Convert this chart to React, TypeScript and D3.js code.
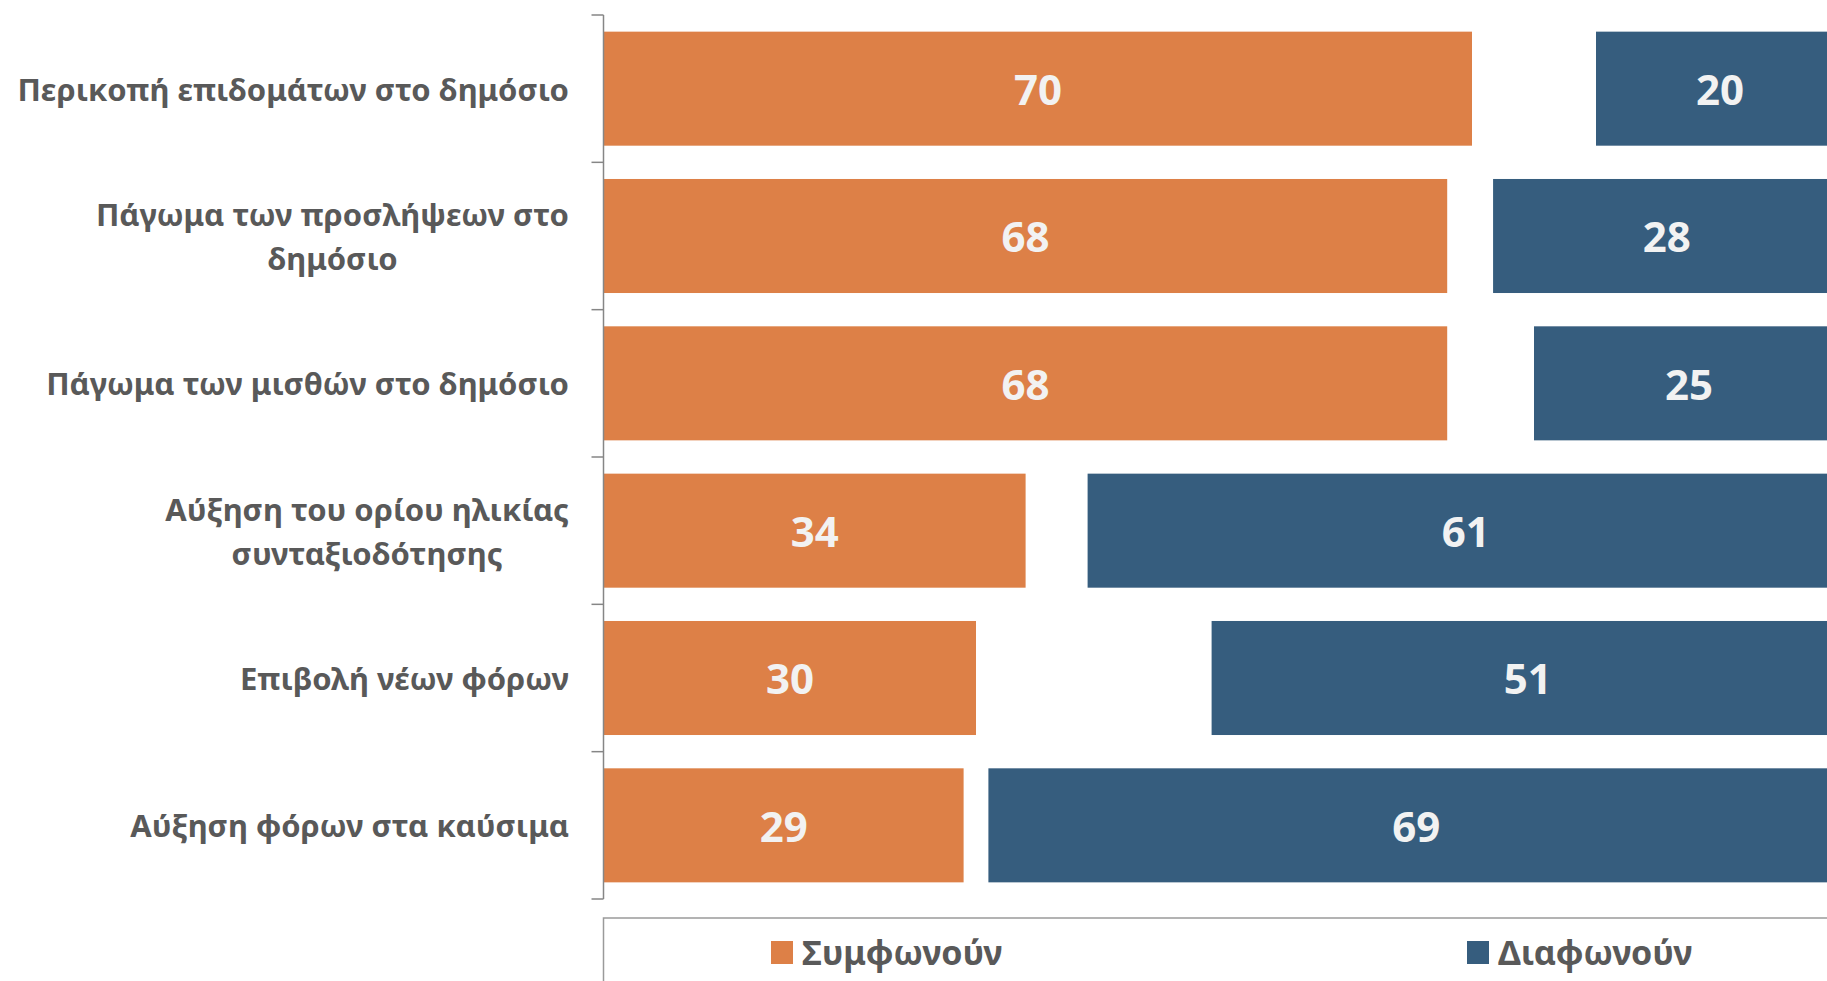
import React, { useEffect, useRef } from 'react';
import * as d3 from 'd3';

const categories = [
  'Περικοπή επιδομάτων στο δημόσιο',
  'Πάγωμα των προσλήψεων στο\nδημόσιο',
  'Πάγωμα των μισθών στο δημόσιο',
  'Αύξηση του ορίου ηλικίας\nσυνταξιοδότησης',
  'Επιβολή νέων φόρων',
  'Αύξηση φόρων στα καύσιμα',
];
const agree = [70, 68, 68, 34, 30, 29];
const neutral = [10, 3.7, 7, 5, 19, 2];
const disagree = [20, 28, 25, 61, 51, 69];
const seriesNames = ['Συμφωνούν', 'Διαφωνούν'];
const xDomain = [0, 100];

const W = 1827;
const H = 981;
const ORANGE = '#dd8047';
const BLUE = '#365d7e';
const TEXT = '#595959';
const FONT = '"Noto Sans", "Open Sans", sans-serif';

export default function App() {
  const ref = useRef<SVGSVGElement | null>(null);

  useEffect(() => {
    document.body.style.margin = '0';
    document.body.style.overflow = 'hidden';
    const svg = d3.select(ref.current);
    svg.selectAll('*').remove();

    const x = d3.scaleLinear().domain(xDomain).range([604, 1844]);
    const y = d3
      .scaleBand<number>()
      .domain(d3.range(categories.length))
      .range([15, 899])
      .paddingInner(0.226)
      .paddingOuter(0.113);

    const rows = categories.map((c, i) => {
      const a0 = 0, a1 = agree[i];
      const d0 = agree[i] + neutral[i], d1 = d0 + disagree[i];
      return { c, i, segs: [
        { s: a0, e: a1, v: agree[i], color: ORANGE },
        { s: d0, e: d1, v: disagree[i], color: BLUE },
      ] };
    });

    const g = svg.append('g');
    rows.forEach((r) => {
      r.segs.forEach((s) => {
        g.append('rect')
          .attr('x', x(s.s))
          .attr('y', y(r.i)!)
          .attr('width', x(s.e) - x(s.s))
          .attr('height', y.bandwidth())
          .attr('fill', s.color);
        g.append('text')
          .attr('x', x((s.s + s.e) / 2))
          .attr('y', y(r.i)! + y.bandwidth() / 2)
          .attr('dy', '0.39em')
          .attr('text-anchor', 'middle')
          .attr('font-family', FONT)
          .attr('font-weight', 700)
          .attr('font-size', 42)
          .attr('fill', '#f2f2f2')
          .text(String(s.v));
      });
    });

    // axis
    const axisX = x(0) - 0.5;
    const ax = svg.append('g');
    ax.append('line')
      .attr('x1', axisX).attr('x2', axisX)
      .attr('y1', 15).attr('y2', 899)
      .attr('stroke', '#868686').attr('stroke-width', 1.5);
    d3.range(categories.length + 1).forEach((k) => {
      const yy = 15 + k * (884 / categories.length);
      ax.append('line')
        .attr('x1', axisX - 12).attr('x2', axisX)
        .attr('y1', yy).attr('y2', yy)
        .attr('stroke', '#868686').attr('stroke-width', 1.5);
    });

    // category labels
    const labelRight = 569;
    const lineH = 44;
    const fs = 31;
    rows.forEach((r) => {
      const lines = r.c.split('\n');
      const cy = y(r.i)! + y.bandwidth() / 2;
      const texts = lines.map((ln, li) =>
        svg.append('text')
          .attr('y', cy + (li - (lines.length - 1) / 2) * lineH)
          .attr('dy', '0.39em')
          .attr('text-anchor', 'middle')
          .attr('font-family', FONT)
          .attr('font-weight', 700)
          .attr('font-size', fs)
          .attr('fill', TEXT)
          .text(ln)
      );
      const maxW = d3.max(texts, (t) => (t.node() as SVGTextElement).getComputedTextLength()) || 0;
      texts.forEach((t) => t.attr('x', labelRight - maxW / 2));
    });

    // legend
    svg.append('rect')
      .attr('x', 603.5).attr('y', 918)
      .attr('width', 1400).attr('height', 200)
      .attr('fill', 'none')
      .attr('stroke', '#9a9a9a').attr('stroke-width', 1.5);
    const legX = [771, 1467];
    const colors = [ORANGE, BLUE];
    seriesNames.forEach((n, k) => {
      svg.append('rect')
        .attr('x', legX[k]).attr('y', 941)
        .attr('width', 22).attr('height', 23)
        .attr('fill', colors[k]);
      svg.append('text')
        .attr('x', legX[k] + 31).attr('y', 952)
        .attr('dy', '0.37em')
        .attr('font-family', FONT)
        .attr('font-weight', 700)
        .attr('font-size', 34)
        .attr('fill', TEXT)
        .text(n);
    });
  }, []);

  return (
    <svg
      ref={ref}
      width={W}
      height={H}
      style={{ position: 'fixed', left: 0, top: 0, display: 'block', background: '#fff' }}
    />
  );
}
